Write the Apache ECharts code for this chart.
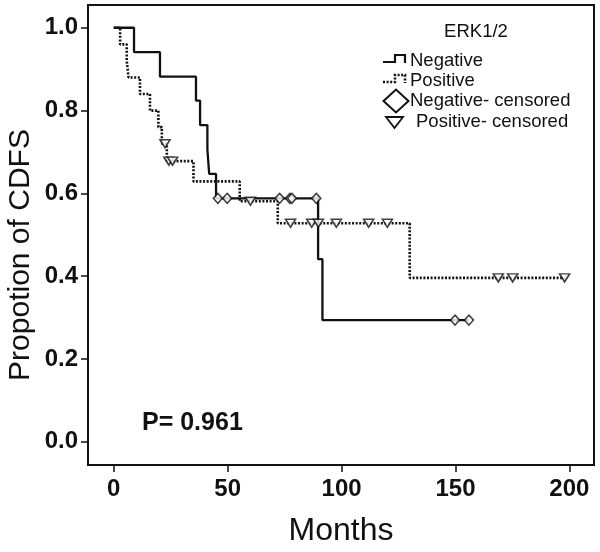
<!DOCTYPE html>
<html><head><meta charset="utf-8">
<script src="https://cdn.jsdelivr.net/npm/echarts@6/dist/echarts.min.js"></script>
<style>html,body{margin:0;padding:0;background:#fff}#c{width:600px;height:552px}</style>
</head><body><div id="c"></div>
<script>
// ---- data ----
const xTicks = [0, 50, 100, 150, 200];
const yTicks = [0, 0.2, 0.4, 0.6, 0.8, 1.0];

// Negative: step curve (time, survival)
const negTimes = [0, 8.9, 20.3, 36.1, 37.9, 41.1, 41.9, 44.9, 89.7, 91.6, 155.9];
const negSurv  = [1.0, 0.941, 0.882, 0.824, 0.765, 0.706, 0.647, 0.588, 0.441, 0.294, 0.294];
// Negative censored marks
const negCensTimes = [45.7, 49.8, 72.8, 77.3, 78.2, 88.9, 149.8, 155.9];
const negCensSurv  = [0.588, 0.588, 0.588, 0.588, 0.588, 0.588, 0.294, 0.294];

// Positive: step curve
const posTimes = [0, 2.8, 5.7, 6.5, 11.5, 15.9, 19.6, 21.1, 23.3, 35.0, 55.3, 72.0, 129.9, 197.9];
const posSurv  = [1.0, 0.96, 0.92, 0.88, 0.84, 0.80, 0.76, 0.72, 0.678, 0.629, 0.581, 0.528, 0.396, 0.396];
// Positive censored marks
const posCensTimes = [22.5, 24.2, 25.8, 60.0, 77.6, 86.9, 89.8, 97.7, 111.9, 120.1, 168.8, 175.1, 197.9];
const posCensSurv  = [0.72, 0.678, 0.678, 0.581, 0.528, 0.528, 0.528, 0.528, 0.528, 0.528, 0.396, 0.396, 0.396];

const legendTitle = 'ERK1/2';
const legendNames = ['Negative', 'Positive', 'Negative- censored', 'Positive- censored'];
const pText = 'P= 0.961';

// ---- chart ----
const zip = (a, b) => a.map((v, i) => [v, b[i]]);
const F = '"Liberation Sans", Arial, sans-serif';
const INK = '#111';
const chart = echarts.init(document.getElementById('c'));

const option = {
  animation: false,
  backgroundColor: '#fff',
  grid: { left: 88, right: 6, top: 5, bottom: 80, show: true, borderColor: INK, borderWidth: 2, backgroundColor: 'transparent' },
  xAxis: {
    type: 'value', min: -11.3, max: 210.8,
    name: 'Months', nameLocation: 'middle', nameGap: 50,
    nameTextStyle: { fontFamily: F, fontSize: 32, color: INK },
    axisLine: { show: true, onZero: false, lineStyle: { color: INK, width: 2 } },
    axisTick: { show: true, length: 7, lineStyle: { color: INK, width: 1.5 }, customValues: xTicks },
    axisLabel: { customValues: xTicks, fontFamily: F, fontWeight: 'bold', fontSize: 24, color: INK, margin: 12 },
    splitLine: { show: false }
  },
  yAxis: {
    type: 'value', min: -0.056, max: 1.055,
    axisLine: { show: true, onZero: false, lineStyle: { color: INK, width: 2 } },
    axisTick: { show: true, length: 7, lineStyle: { color: INK, width: 1.5 }, customValues: yTicks },
    axisLabel: { customValues: yTicks, formatter: v => v.toFixed(1), fontFamily: F, fontWeight: 'bold', fontSize: 24, color: INK, margin: 10 },
    splitLine: { show: false }
  },
  series: [
    { name: 'Negative', type: 'line', step: 'end', data: zip(negTimes, negSurv), showSymbol: false, symbol: 'none',
      lineStyle: { color: INK, width: 2.3 }, z: 2 },
    { name: 'Positive', type: 'line', step: 'end', data: zip(posTimes, posSurv), showSymbol: false, symbol: 'none',
      lineStyle: { color: INK, width: 2.6, type: [2, 1.6] }, z: 2 },
    { name: 'Negative- censored', type: 'scatter', data: zip(negCensTimes, negCensSurv), symbol: 'diamond', symbolSize: [9, 10],
      itemStyle: { color: '#fff', borderColor: INK, borderWidth: 1.6 }, z: 4 },
    { name: 'Positive- censored', type: 'scatter', data: zip(posCensTimes, posCensSurv), symbol: 'triangle', symbolRotate: 180, symbolSize: [10, 8],
      itemStyle: { color: '#fff', borderColor: INK, borderWidth: 1.6 }, z: 3 }
  ],
  graphic: [
    { type: 'text', x: 21, y: 255, rotation: Math.PI / 2,
      style: { text: 'Propotion of CDFS', fontFamily: F, fontSize: 30, fill: INK, align: 'center', verticalAlign: 'middle' } },
    { type: 'text', x: 142, y: 423,
      style: { text: pText, fontFamily: F, fontSize: 25, fontWeight: 'bold', fill: INK, align: 'left', verticalAlign: 'middle' } },
    { type: 'text', x: 476, y: 32,
      style: { text: legendTitle, fontFamily: F, fontSize: 18.5, fill: INK, align: 'center', verticalAlign: 'middle' } },
    { type: 'polyline', shape: { points: [[383, 62], [395, 62], [395, 55], [405, 55], [405, 63]] },
      style: { stroke: INK, lineWidth: 2.2, fill: null } },
    { type: 'text', x: 410, y: 61,
      style: { text: legendNames[0], fontFamily: F, fontSize: 18.5, fill: INK, align: 'left', verticalAlign: 'middle' } },
    { type: 'polyline', shape: { points: [[383, 82], [395, 82], [395, 75], [405, 75], [405, 83]] },
      style: { stroke: INK, lineWidth: 2.6, lineDash: [2, 1.6], fill: null } },
    { type: 'text', x: 410, y: 81,
      style: { text: legendNames[1], fontFamily: F, fontSize: 18.5, fill: INK, align: 'left', verticalAlign: 'middle' } },
    { type: 'polygon', shape: { points: [[383.5, 101], [396, 89.5], [408.5, 101], [396, 112.5]] },
      style: { stroke: INK, lineWidth: 2, fill: '#fff' } },
    { type: 'text', x: 410, y: 101,
      style: { text: legendNames[2], fontFamily: F, fontSize: 18.5, fill: INK, align: 'left', verticalAlign: 'middle' } },
    { type: 'polygon', shape: { points: [[386, 117], [403, 117], [394.5, 128]] },
      style: { stroke: INK, lineWidth: 1.8, fill: '#fff' } },
    { type: 'text', x: 416, y: 122,
      style: { text: legendNames[3], fontFamily: F, fontSize: 18.5, fill: INK, align: 'left', verticalAlign: 'middle' } }
  ]
};
chart.setOption(option);
</script>
</body></html>
